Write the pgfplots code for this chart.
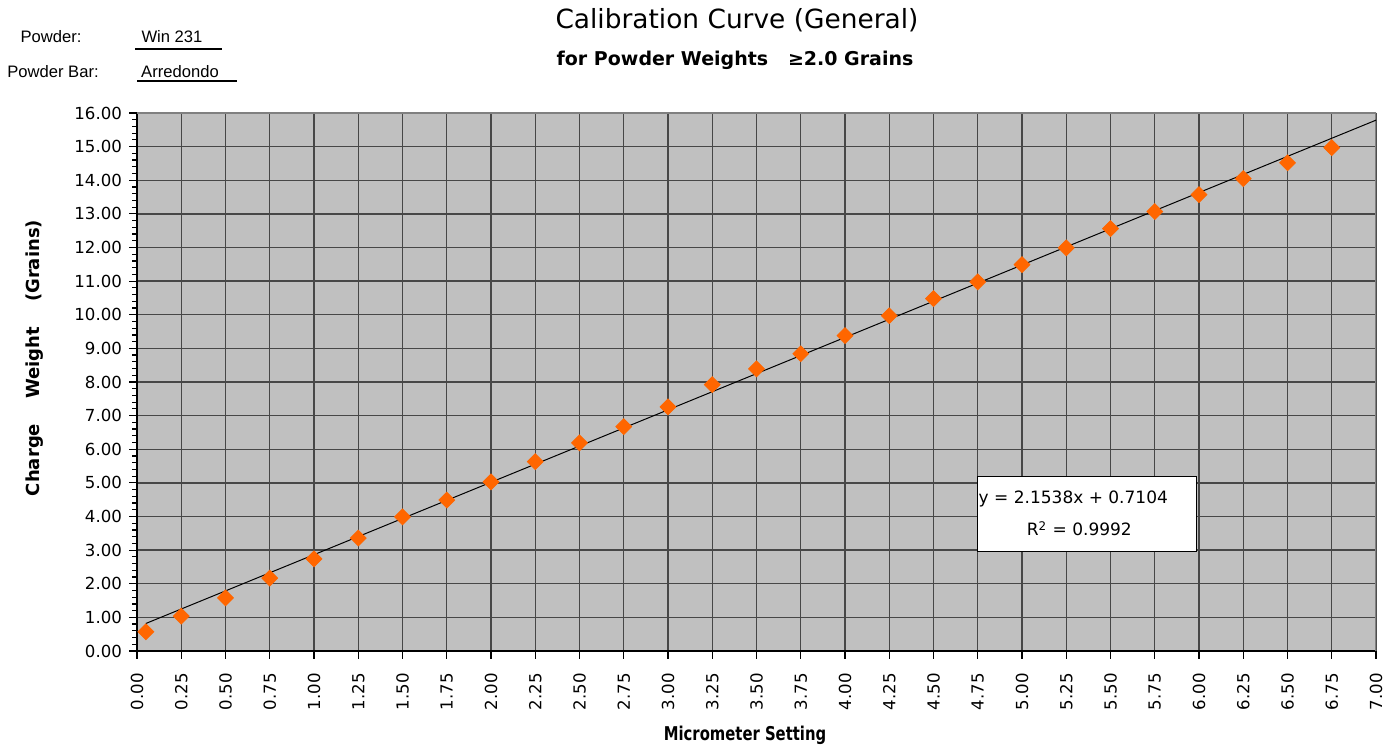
\documentclass[border=0pt]{standalone}
\usepackage{pgfplots}
\pgfplotsset{compat=1.18}
\usepackage{fontspec}
\setmainfont{DejaVu Sans}
\newfontfamily\arialfont{Liberation Sans}
\newfontfamily\condfont[FakeStretch=0.78]{DejaVu Sans}
\definecolor{bggray}{HTML}{C0C0C0}
\definecolor{markorange}{HTML}{FF6600}
\begin{document}
\begin{tikzpicture}[x=1pt,y=1pt]
\useasboundingbox (-68.5,-48) rectangle (626.5,325.5);
\begin{axis}[
  at={(0,0)}, anchor=south west,
  scale only axis, width=619.5pt, height=269pt,
  xmin=0, xmax=7, ymin=0, ymax=16,
  xtick={0,0.25,...,7}, ytick={0,1,...,16},
  minor y tick num=4,
  tick align=outside,
  axis lines*=left,
  major tick length=4pt, minor tick length=2.5pt,
  every tick/.style={black, line width=0.6pt},
  grid=major,
  major grid style={black!72, line width=0.65pt},
  axis background/.style={fill=bggray},
  axis line style={black, line width=0.7pt},
  xticklabel style={rotate=90, anchor=east, font=\fontsize{8.3}{10}\selectfont},
  xticklabel shift=3.5pt,
  yticklabel style={font=\fontsize{8.3}{10}\selectfont},
  /pgf/number format/.cd, fixed, fixed zerofill, precision=2, assume math mode=true,
]
\draw[gray, line width=0.7pt] (rel axis cs:0,1) -- (rel axis cs:1,1) -- (rel axis cs:1,0);
\addplot[only marks, mark=square*, mark size=2.8pt, mark options={rotate=45, fill=markorange, draw=markorange}] table {
x y
0.05 0.57
0.25 1.04
0.50 1.58
0.75 2.17
1.00 2.74
1.25 3.36
1.50 3.99
1.75 4.49
2.00 5.03
2.25 5.63
2.50 6.19
2.75 6.67
3.00 7.26
3.25 7.92
3.50 8.39
3.75 8.84
4.00 9.38
4.25 9.97
4.50 10.48
4.75 10.98
5.00 11.49
5.25 11.99
5.50 12.56
5.75 13.07
6.00 13.57
6.25 14.05
6.50 14.52
6.75 14.97
};
\addplot[black, line width=0.5pt] coordinates {(0.05,0.818) (7,15.787)};
\draw[black, fill=white, line width=0.5pt] (axis cs:4.746,2.97) rectangle (axis cs:5.983,5.20);
\node[align=center, font=\fontsize{8.5}{16}\selectfont] at (axis cs:5.29,4.09) {y = 2.1538x + 0.7104\\\hspace*{6pt}R\textsuperscript{2} = 0.9992};
\end{axis}
\node[font=\fontsize{13.2}{15}\selectfont] at (300,315.5) {Calibration Curve (General)};
\node[font=\bfseries\fontsize{9.5}{11}\selectfont] at (299,295.5) {for Powder Weights \ \ ≥2.0 Grains};
\node[font=\arialfont\fontsize{8.3}{10}\selectfont] at (-43,307) {Powder:};
\node[font=\arialfont\fontsize{8.3}{10}\selectfont] at (17.5,307) {Win 231};
\draw[black, line width=1pt] (-1,301) -- (42.5,301);
\node[font=\arialfont\fontsize{8.3}{10}\selectfont] at (-42,289.5) {Powder Bar:};
\node[font=\arialfont\fontsize{8.3}{10}\selectfont] at (21.5,289.5) {Arredondo};
\draw[black, line width=1pt] (0,285) -- (50,285);
\node[rotate=90, font=\bfseries\fontsize{9}{10}\selectfont] at (-51,146.5) {Charge \ \ \ Weight \ \ \ (Grains)};
\node[font=\condfont\bfseries\fontsize{9.5}{10}\selectfont] at (304,-42) {Micrometer Setting};
\end{tikzpicture}
\end{document}
